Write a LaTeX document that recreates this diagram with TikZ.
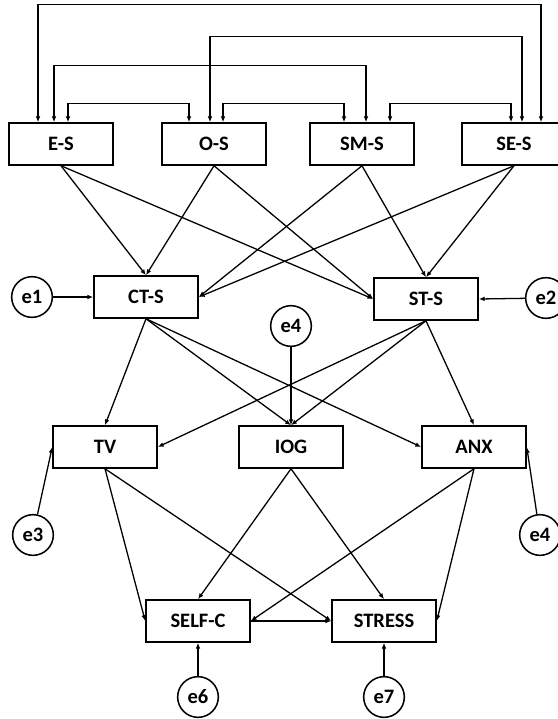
\documentclass[tikz,border=0pt]{standalone}
\usepackage{fontspec}
\setmainfont{Carlito}
\usetikzlibrary{arrows.meta}

\tikzset{
    var/.style={draw, line width=1.3pt, minimum width=3.12cm, minimum height=1.26cm,
        inner sep=0pt, font=\fontsize{17.5}{20}\selectfont\bfseries},
    err/.style={draw, circle, line width=1.3pt, minimum size=1.22cm,
        inner sep=0pt, font=\fontsize{17.5}{20}\selectfont\bfseries},
    reg/.style={line width=1.1pt, -{Latex[length=5pt,width=4pt]}},
    cov/.style={line width=1.1pt, {Latex[length=5pt,width=4pt]}-{Latex[length=5pt,width=4pt]}}
}

\begin{document}
\begin{tikzpicture}[x=0.03cm,y=-0.03cm]
            \useasboundingbox (0,0) rectangle (558,719);
            \clip (0,0) rectangle (558,719);

            % exogenous scales
            \node [var] (es)  at (61,144)  {E-S};
            \node [var] (os)  at (214,144) {O-S};
            \node [var] (sms) at (362,144) {SM-S};
            \node [var] (ses) at (514,144) {SE-S};

            % first mediators
            \node [var] (cts) at (146,297) {CT-S};
            \node [var] (sts) at (426,299) {ST-S};
            \node [err] (e1)  at (32,297)  {e1};
            \node [err] (e2)  at (546,298) {e2};

            % second mediators
            \node [var] (tv)  at (105,447) {TV};
            \node [var] (iog) at (291,447) {IOG};
            \node [var] (anx) at (474,447) {ANX};
            \node [err] (e4a) at (291,326) {e4};
            \node [err] (e3)  at (33,535)  {e3};
            \node [err] (e4b) at (540,535) {e4};

            % outcomes
            \node [var] (selfc)  at (198,621) {SELF-C};
            \node [var] (stress) at (384,621) {STRESS};
            \node [err] (e6) at (198,697) {e6};
            \node [err] (e7) at (384,697) {e7};

            % covariances
            \draw [cov]
                ([xshift=-0.69cm]es.north) -- ++(0,-118) -| ([xshift=0.81cm]ses.north);
            \draw [cov]
                ([xshift=-0.12cm]os.north) -- ++(0,-86) -| ([xshift=0.24cm]ses.north);
            \draw [cov]
                ([xshift=-0.21cm]es.north) -- ++(0,-57) -| ([xshift=0.12cm]sms.north);
            \draw [cov]
                ([xshift=0.21cm]es.north) -- ++(0,-19) -| ([xshift=-0.75cm]os.north);
            \draw [cov]
                ([xshift=0.27cm]os.north) -- ++(0,-19) -| ([xshift=-0.54cm]sms.north);
            \draw [cov]
                ([xshift=0.84cm]sms.north) -- ++(0,-19) -| ([xshift=-0.09cm]ses.north);

            % paths to CT-S and ST-S
            \draw [reg] (es.south) -- (cts.north);
            \draw [reg] (es.south) -- (sts.west);
            \draw [reg] (os.south) -- (cts.north);
            \draw [reg] (os.south) -- (sts.west);
            \draw [reg] (sms.south) -- (cts.east);
            \draw [reg] (sms.south) -- (sts.north);
            \draw [reg] (ses.south) -- (cts.east);
            \draw [reg] (ses.south) -- (sts.north);
            \draw [reg] (e1) -- (cts.west);
            \draw [reg] (e2) -- (sts.east);

            % paths to TV, IOG and ANX
            \draw [reg] (cts.south) -- (tv.north);
            \draw [reg] (cts.south) -- (iog.north);
            \draw [reg] (cts.south) -- (anx.west);
            \draw [reg] (sts.south) -- (tv.east);
            \draw [reg] (sts.south) -- (iog.north);
            \draw [reg] (sts.south) -- (anx.north);
            \draw [reg] (e4a) -- (iog.north);
            \draw [reg] (e3) -- (tv.west);
            \draw [reg] (e4b) -- (anx.east);

            % paths to SELF-C and STRESS
            \draw [reg] (tv.south) -- (selfc.west);
            \draw [reg] (tv.south) -- (stress.west);
            \draw [reg] (iog.south) -- (selfc.north);
            \draw [reg] (iog.south) -- (stress.north);
            \draw [reg] (anx.south) -- (selfc.east);
            \draw [reg] (anx.south) -- (stress.east);
            \draw [reg] (selfc) -- (stress);
            \draw [reg] (e6) -- (selfc);
            \draw [reg] (e7) -- (stress);
\end{tikzpicture}
\end{document}
